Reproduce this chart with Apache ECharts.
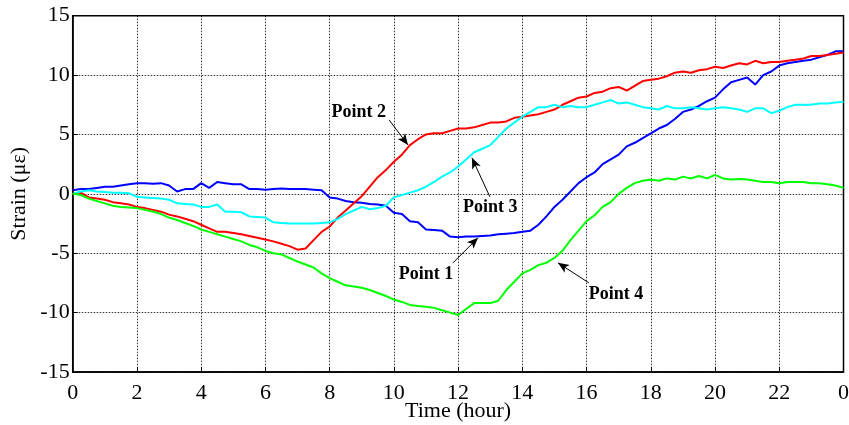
<!DOCTYPE html>
<html>
<head>
<meta charset="utf-8">
<script src="https://cdn.jsdelivr.net/npm/echarts@6/dist/echarts.min.js"></script>
<style>html,body{margin:0;padding:0;background:#fff;}#c{width:849px;height:425px;}</style>
</head>
<body>
<div id="c"></div>
<script>
// time in hours, step 0.25
var hours = [];
for (var i = 0; i <= 96; i++) hours.push(i * 0.25);

var point1 = [0.3,0.4,0.4,0.5,0.6,0.6,0.7,0.8,0.9,0.9,0.85,0.9,0.7,0.2,0.4,0.4,0.9,0.5,1.0,0.9,0.8,0.8,0.4,0.4,0.35,0.4,0.45,0.4,0.4,0.4,0.35,0.3,-0.3,-0.4,-0.6,-0.7,-0.75,-0.85,-0.9,-1.0,-1.6,-1.7,-2.3,-2.4,-3.0,-3.05,-3.1,-3.6,-3.65,-3.6,-3.6,-3.55,-3.5,-3.4,-3.35,-3.3,-3.2,-3.1,-2.6,-1.9,-1.1,-0.5,0.2,0.9,1.4,1.8,2.5,2.9,3.3,4.0,4.3,4.7,5.1,5.5,5.8,6.3,6.9,7.1,7.4,7.8,8.1,8.8,9.4,9.6,9.8,9.2,10.0,10.3,10.8,11.0,11.1,11.2,11.3,11.5,11.7,12.0,12.0];
var point2 = [0,0.1,-0.3,-0.4,-0.5,-0.7,-0.8,-0.9,-1.1,-1.2,-1.35,-1.5,-1.75,-1.9,-2.1,-2.3,-2.6,-2.9,-3.2,-3.2,-3.3,-3.4,-3.55,-3.7,-3.85,-4.0,-4.2,-4.4,-4.7,-4.6,-3.9,-3.2,-2.75,-2.0,-1.4,-0.8,-0.2,0.6,1.4,2.0,2.7,3.3,4.1,4.6,5.0,5.1,5.1,5.3,5.5,5.5,5.6,5.8,6.0,6.0,6.1,6.4,6.5,6.6,6.7,6.9,7.1,7.5,7.8,8.1,8.2,8.5,8.6,8.9,9.0,8.7,9.1,9.5,9.6,9.7,9.9,10.2,10.3,10.2,10.4,10.5,10.7,10.6,10.8,11.0,10.9,11.2,11.0,11.1,11.1,11.2,11.3,11.4,11.6,11.6,11.7,11.8,11.9];
var point3 = [0,0.2,0.3,0.2,0.15,0.1,0.1,0.05,-0.25,-0.3,-0.35,-0.4,-0.5,-0.8,-0.85,-0.9,-1.1,-1.1,-0.9,-1.5,-1.5,-1.55,-1.9,-1.95,-2.0,-2.4,-2.45,-2.5,-2.5,-2.5,-2.5,-2.45,-2.4,-2.1,-1.7,-1.4,-1.1,-1.3,-1.2,-1.0,-0.3,-0.1,0.1,0.3,0.6,1.0,1.45,1.8,2.3,2.9,3.5,3.8,4.1,4.8,5.5,6.0,6.5,6.9,7.3,7.3,7.5,7.3,7.4,7.3,7.3,7.5,7.7,7.9,7.6,7.7,7.5,7.3,7.2,7.1,7.4,7.2,7.2,7.3,7.2,7.1,7.2,7.3,7.2,7.1,6.9,7.2,7.2,6.8,7.0,7.3,7.5,7.5,7.5,7.6,7.6,7.7,7.75];
var point4 = [0,-0.1,-0.4,-0.6,-0.8,-1.0,-1.1,-1.15,-1.2,-1.35,-1.5,-1.7,-2.0,-2.2,-2.45,-2.7,-3.0,-3.2,-3.4,-3.6,-3.8,-4.0,-4.3,-4.5,-4.8,-5.0,-5.1,-5.4,-5.7,-5.95,-6.2,-6.7,-7.1,-7.4,-7.7,-7.8,-7.9,-8.1,-8.35,-8.6,-8.9,-9.1,-9.35,-9.45,-9.5,-9.6,-9.8,-10.0,-10.2,-9.7,-9.2,-9.2,-9.2,-9.0,-8.1,-7.4,-6.7,-6.4,-6.0,-5.8,-5.4,-4.8,-3.9,-3.1,-2.3,-1.8,-1.1,-0.7,0.0,0.5,0.9,1.1,1.2,1.1,1.3,1.2,1.45,1.3,1.5,1.3,1.6,1.3,1.2,1.25,1.2,1.1,1.0,1.0,0.9,1.0,1.0,1.0,0.9,0.9,0.8,0.7,0.5];

var seriesNames = ['Point 1','Point 2','Point 3','Point 4'];
var seriesColors = ['#0000ff','#ff0000','#00ffff','#00ff00'];
var seriesValues = [point1, point2, point3, point4];

// annotations: [label, textX, textY, tailX, tailY, headX, headY] in data units
var notes = [
  ['Point 1', 11.0, -6.8, 11.84, -5.81, 12.62, -3.70],
  ['Point 2', 8.91, 6.9, 9.85, 6.23, 10.44, 4.12],
  ['Point 3', 13.0, -1.1, 12.99, -0.25, 12.43, 3.03],
  ['Point 4', 16.92, -8.42, 16.07, -7.49, 15.11, -5.81]
];

var font = 'Liberation Serif, Times New Roman, serif';

function pairs(vals) { return hours.map(function (h, i) { return [h, vals[i]]; }); }

var series = seriesValues.map(function (vals, k) {
  return {
    name: seriesNames[k], type: 'line', data: pairs(vals), showSymbol: false,
    lineStyle: { color: seriesColors[k], width: 2 }, itemStyle: { color: seriesColors[k] },
    animation: false, z: 2
  };
});

series.push({
  type: 'line', data: [], silent: true, animation: false,
  markLine: {
    silent: true, animation: false, symbol: ['none', 'arrow'], symbolSize: [7, 11],
    lineStyle: { color: '#000', width: 1, type: 'solid' }, label: { show: false },
    data: notes.map(function (n) { return [{ coord: [n[3], n[4]] }, { coord: [n[5], n[6]] }]; })
  },
  markPoint: {
    silent: true, animation: false, symbol: 'rect', symbolSize: 1,
    itemStyle: { color: 'rgba(0,0,0,0)' },
    label: { show: true, position: 'inside', fontFamily: font, fontWeight: 'bold', fontSize: 18, color: '#000',
      formatter: function (p) { return p.name; } },
    data: notes.map(function (n) { return { name: n[0], coord: [n[1], n[2]] }; })
  }
});

var chart = echarts.init(document.getElementById('c'), null, { renderer: 'canvas' });
chart.setOption({
  animation: false,
  backgroundColor: '#fff',
  grid: { left: 72.7, right: 5.5, top: 15.7, bottom: 53, show: true, borderColor: '#000', borderWidth: 1.5,
    containLabel: false, outerBoundsMode: 'none' },
  xAxis: {
    type: 'value', min: 0, max: 24, interval: 2,
    name: 'Time (hour)', nameLocation: 'middle', nameGap: 28, nameMoveOverlap: false,
    nameTextStyle: { fontFamily: font, fontSize: 22, color: '#000' },
    axisLine: { show: true, onZero: false, lineStyle: { color: '#000', width: 1.5 } },
    axisTick: { show: true, inside: true, length: 5, lineStyle: { color: '#000' } },
    axisLabel: { fontFamily: font, fontSize: 22, color: '#000', margin: 10,
      formatter: function (v) { return v === 24 ? '0' : String(v); } },
    splitLine: { show: true, lineStyle: { color: '#000', type: [1.5, 1.5], width: 0.8 } }
  },
  yAxis: {
    type: 'value', min: -15, max: 15, interval: 5,
    name: 'Strain (\u03bc\u03b5)', nameLocation: 'middle', nameGap: 42, nameRotate: 90, nameMoveOverlap: false,
    nameTextStyle: { fontFamily: font, fontSize: 22, color: '#000' },
    axisLine: { show: true, onZero: false, lineStyle: { color: '#000', width: 1.5 } },
    axisTick: { show: true, inside: true, length: 5, lineStyle: { color: '#000' } },
    axisLabel: { fontFamily: font, fontSize: 22, color: '#000', margin: 3 },
    splitLine: { show: true, lineStyle: { color: '#000', type: [1.5, 1.5], width: 0.8 } }
  },
  series: series
});
</script>
</body>
</html>
